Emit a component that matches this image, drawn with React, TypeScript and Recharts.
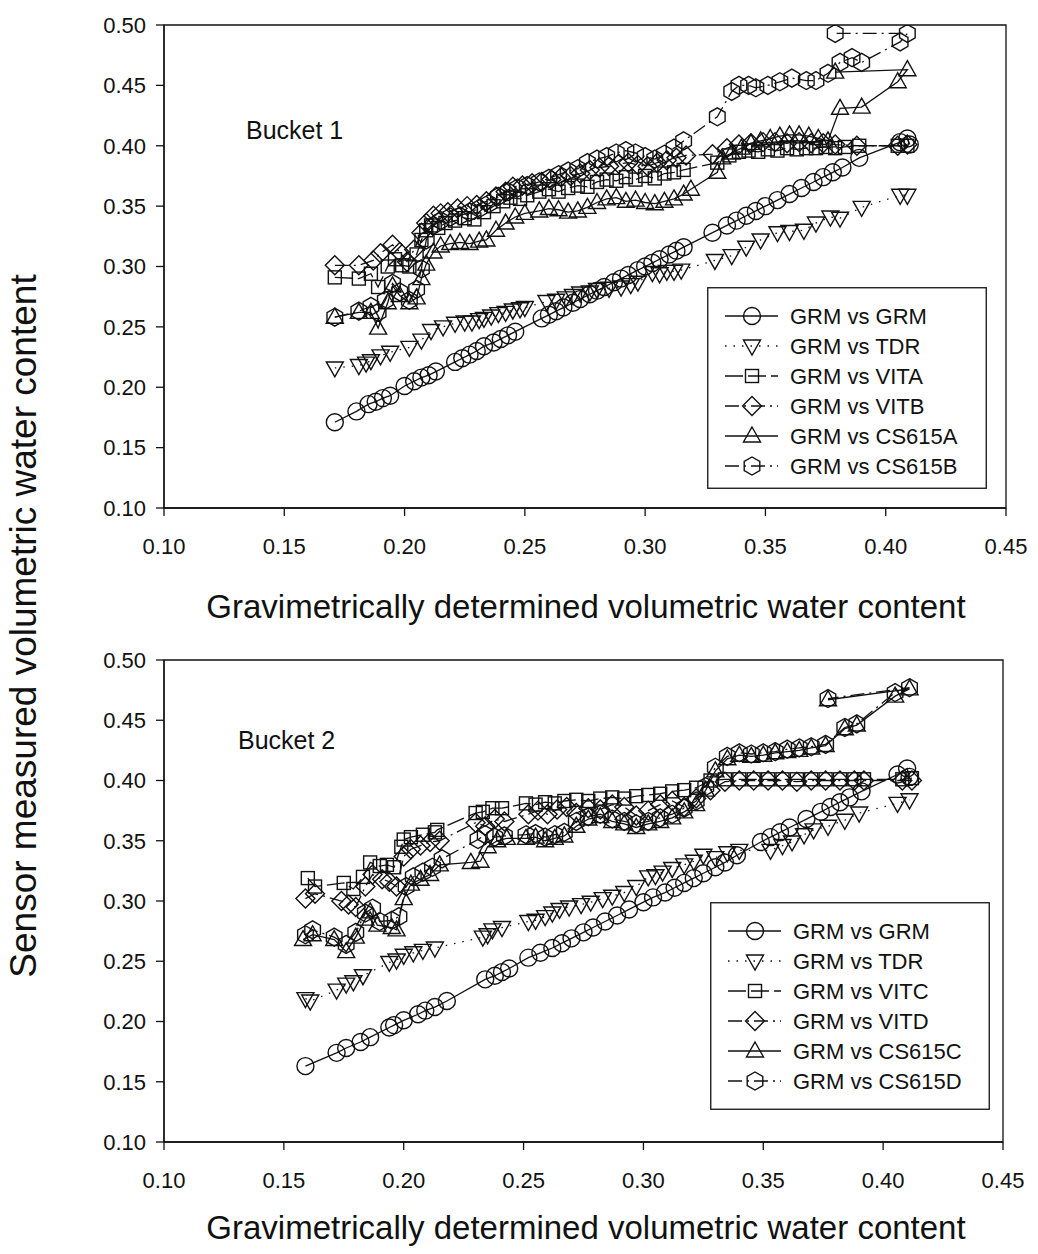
import React from 'react';
import { ScatterChart, Scatter, XAxis, YAxis, ReferenceArea, Legend } from 'recharts';

type Pt = [number, number];

// ---------- axis ticks ----------
const xTicks = [0.1, 0.15, 0.2, 0.25, 0.3, 0.35, 0.4, 0.45];
const yTicks = [0.1, 0.15, 0.2, 0.25, 0.3, 0.35, 0.4, 0.45, 0.5];

// ---------- series labels ----------
const bucket1Labels = ['GRM vs GRM', 'GRM vs TDR', 'GRM vs VITA', 'GRM vs VITB', 'GRM vs CS615A', 'GRM vs CS615B'];
const bucket2Labels = ['GRM vs GRM', 'GRM vs TDR', 'GRM vs VITC', 'GRM vs VITD', 'GRM vs CS615C', 'GRM vs CS615D'];

// ---------- Bucket 1 data (x = gravimetric, y = sensor) ----------
const bucket1Grm: Pt[] = [
  [0.171, 0.171], [0.180, 0.180], [0.185, 0.186], [0.188, 0.188], [0.191, 0.191], [0.194, 0.193],
  [0.200, 0.201], [0.204, 0.205], [0.207, 0.208], [0.210, 0.210], [0.213, 0.213], [0.221, 0.221],
  [0.224, 0.224], [0.227, 0.227], [0.230, 0.230], [0.233, 0.234], [0.237, 0.237], [0.240, 0.240],
  [0.243, 0.243], [0.246, 0.246], [0.257, 0.257], [0.260, 0.260], [0.263, 0.263], [0.266, 0.266],
  [0.270, 0.270], [0.273, 0.273], [0.277, 0.277], [0.280, 0.280], [0.283, 0.283], [0.287, 0.287],
  [0.290, 0.290], [0.293, 0.293], [0.297, 0.297], [0.300, 0.300], [0.303, 0.303], [0.306, 0.306],
  [0.310, 0.310], [0.313, 0.313], [0.316, 0.316], [0.328, 0.328], [0.334, 0.334], [0.338, 0.338],
  [0.342, 0.342], [0.346, 0.346], [0.350, 0.350], [0.355, 0.355], [0.360, 0.360], [0.365, 0.365],
  [0.370, 0.370], [0.374, 0.374], [0.378, 0.378], [0.382, 0.382], [0.389, 0.390], [0.406, 0.403],
  [0.409, 0.406], [0.410, 0.401],
];
const bucket1Tdr: Pt[] = [
  [0.171, 0.216], [0.181, 0.218], [0.184, 0.220], [0.186, 0.222], [0.190, 0.226], [0.194, 0.229],
  [0.202, 0.233], [0.207, 0.239], [0.211, 0.247], [0.216, 0.250], [0.221, 0.253], [0.225, 0.254],
  [0.228, 0.254], [0.231, 0.256], [0.233, 0.257], [0.236, 0.259], [0.239, 0.261], [0.242, 0.262],
  [0.245, 0.264], [0.248, 0.265], [0.250, 0.266], [0.259, 0.271], [0.263, 0.272], [0.267, 0.274],
  [0.270, 0.276], [0.273, 0.278], [0.277, 0.279], [0.280, 0.281], [0.285, 0.282], [0.290, 0.283],
  [0.294, 0.285], [0.297, 0.287], [0.303, 0.295], [0.306, 0.294], [0.309, 0.296], [0.312, 0.296],
  [0.315, 0.297], [0.329, 0.305], [0.336, 0.309], [0.342, 0.316], [0.348, 0.322], [0.355, 0.328],
  [0.360, 0.329], [0.366, 0.330], [0.371, 0.336], [0.377, 0.341], [0.381, 0.340], [0.390, 0.349],
  [0.406, 0.359], [0.409, 0.359],
];
const bucket1VitA: Pt[] = [
  [0.171, 0.291], [0.181, 0.290], [0.186, 0.294], [0.189, 0.283], [0.193, 0.300], [0.196, 0.306],
  [0.199, 0.301], [0.202, 0.300], [0.205, 0.310], [0.207, 0.322], [0.209, 0.330], [0.211, 0.334],
  [0.214, 0.332], [0.217, 0.336], [0.221, 0.338], [0.225, 0.340], [0.229, 0.339], [0.233, 0.345],
  [0.237, 0.350], [0.241, 0.354], [0.244, 0.357], [0.248, 0.356], [0.251, 0.359], [0.256, 0.362],
  [0.260, 0.364], [0.264, 0.362], [0.268, 0.365], [0.272, 0.367], [0.276, 0.366], [0.280, 0.370],
  [0.284, 0.372], [0.288, 0.371], [0.292, 0.374], [0.296, 0.372], [0.300, 0.375], [0.304, 0.373],
  [0.308, 0.377], [0.312, 0.378], [0.316, 0.380], [0.330, 0.386], [0.335, 0.392], [0.339, 0.395],
  [0.343, 0.396], [0.347, 0.395], [0.351, 0.397], [0.355, 0.396], [0.359, 0.398], [0.363, 0.397],
  [0.367, 0.398], [0.371, 0.398], [0.375, 0.399], [0.379, 0.398], [0.383, 0.399], [0.389, 0.400],
  [0.405, 0.400], [0.409, 0.400],
];
const bucket1VitB: Pt[] = [
  [0.171, 0.301], [0.181, 0.301], [0.187, 0.305], [0.190, 0.311], [0.195, 0.318], [0.198, 0.312],
  [0.201, 0.304], [0.204, 0.314], [0.207, 0.328], [0.209, 0.336], [0.212, 0.342], [0.215, 0.344],
  [0.218, 0.345], [0.222, 0.348], [0.226, 0.350], [0.230, 0.351], [0.234, 0.354], [0.238, 0.358],
  [0.242, 0.362], [0.245, 0.366], [0.249, 0.367], [0.253, 0.369], [0.257, 0.370], [0.261, 0.372],
  [0.265, 0.374], [0.269, 0.375], [0.273, 0.377], [0.277, 0.380], [0.281, 0.382], [0.285, 0.383],
  [0.289, 0.385], [0.293, 0.386], [0.297, 0.384], [0.301, 0.383], [0.305, 0.386], [0.309, 0.388],
  [0.313, 0.390], [0.317, 0.392], [0.328, 0.393], [0.334, 0.398], [0.339, 0.401], [0.344, 0.402],
  [0.349, 0.403], [0.354, 0.403], [0.359, 0.402], [0.364, 0.403], [0.369, 0.402], [0.374, 0.402],
  [0.379, 0.401], [0.388, 0.400], [0.405, 0.400], [0.409, 0.401],
];
const bucket1Cs615A: Pt[] = [
  [0.171, 0.258], [0.181, 0.262], [0.186, 0.262], [0.189, 0.249], [0.193, 0.270], [0.195, 0.284],
  [0.198, 0.276], [0.202, 0.270], [0.205, 0.274], [0.207, 0.290], [0.209, 0.302], [0.212, 0.312],
  [0.215, 0.317], [0.219, 0.319], [0.223, 0.320], [0.227, 0.319], [0.231, 0.321], [0.234, 0.322],
  [0.238, 0.330], [0.242, 0.336], [0.246, 0.341], [0.250, 0.344], [0.256, 0.346], [0.260, 0.348],
  [0.264, 0.347], [0.268, 0.345], [0.272, 0.346], [0.276, 0.349], [0.280, 0.353], [0.284, 0.356],
  [0.288, 0.357], [0.292, 0.354], [0.296, 0.355], [0.300, 0.353], [0.304, 0.352], [0.308, 0.354],
  [0.312, 0.356], [0.316, 0.360], [0.319, 0.364], [0.330, 0.378], [0.332, 0.390], [0.336, 0.394],
  [0.340, 0.398], [0.344, 0.402], [0.348, 0.404], [0.352, 0.406], [0.356, 0.408], [0.360, 0.409],
  [0.364, 0.409], [0.368, 0.408], [0.372, 0.406], [0.376, 0.404], [0.381, 0.431], [0.390, 0.432],
  [0.405, 0.453], [0.409, 0.463], [0.379, 0.461],
];
const bucket1Cs615B: Pt[] = [
  [0.171, 0.258], [0.181, 0.263], [0.186, 0.267], [0.189, 0.262], [0.192, 0.272], [0.195, 0.286],
  [0.198, 0.279], [0.202, 0.272], [0.205, 0.281], [0.207, 0.298], [0.209, 0.322], [0.212, 0.334],
  [0.215, 0.338], [0.219, 0.341], [0.223, 0.342], [0.227, 0.345], [0.231, 0.348], [0.235, 0.352],
  [0.239, 0.358], [0.243, 0.362], [0.247, 0.365], [0.251, 0.367], [0.256, 0.370], [0.260, 0.373],
  [0.264, 0.376], [0.268, 0.379], [0.272, 0.381], [0.276, 0.386], [0.280, 0.389], [0.284, 0.391],
  [0.288, 0.394], [0.292, 0.396], [0.296, 0.394], [0.300, 0.391], [0.304, 0.389], [0.308, 0.393],
  [0.312, 0.398], [0.316, 0.404], [0.330, 0.424], [0.336, 0.445], [0.339, 0.450], [0.343, 0.450],
  [0.346, 0.448], [0.351, 0.450], [0.356, 0.453], [0.361, 0.456], [0.367, 0.454], [0.371, 0.454],
  [0.376, 0.460], [0.381, 0.469], [0.386, 0.473], [0.390, 0.469], [0.406, 0.486], [0.409, 0.493],
  [0.379, 0.493],
];

// ---------- Bucket 2 data ----------
const bucket2Grm: Pt[] = [
  [0.159, 0.163], [0.172, 0.174], [0.176, 0.178], [0.182, 0.183], [0.186, 0.187], [0.194, 0.195],
  [0.196, 0.197], [0.200, 0.201], [0.206, 0.206], [0.209, 0.209], [0.213, 0.212], [0.218, 0.217],
  [0.234, 0.235], [0.238, 0.238], [0.241, 0.241], [0.244, 0.244], [0.252, 0.253], [0.257, 0.257],
  [0.262, 0.261], [0.266, 0.265], [0.270, 0.269], [0.275, 0.274], [0.279, 0.278], [0.284, 0.283],
  [0.289, 0.288], [0.294, 0.293], [0.300, 0.299], [0.304, 0.303], [0.309, 0.307], [0.313, 0.311],
  [0.317, 0.315], [0.321, 0.319], [0.325, 0.323], [0.330, 0.328], [0.334, 0.332], [0.339, 0.338],
  [0.349, 0.349], [0.353, 0.353], [0.357, 0.357], [0.361, 0.361], [0.368, 0.368], [0.374, 0.374],
  [0.378, 0.378], [0.382, 0.382], [0.386, 0.386], [0.391, 0.391], [0.406, 0.405], [0.410, 0.410],
  [0.411, 0.403],
];
const bucket2Tdr: Pt[] = [
  [0.159, 0.219], [0.161, 0.217], [0.172, 0.226], [0.176, 0.231], [0.179, 0.233], [0.183, 0.238],
  [0.194, 0.249], [0.197, 0.251], [0.200, 0.255], [0.204, 0.257], [0.208, 0.259], [0.213, 0.261],
  [0.233, 0.270], [0.235, 0.272], [0.237, 0.276], [0.241, 0.278], [0.252, 0.283], [0.255, 0.284],
  [0.259, 0.287], [0.262, 0.290], [0.265, 0.293], [0.269, 0.295], [0.274, 0.297], [0.278, 0.299],
  [0.283, 0.302], [0.287, 0.304], [0.292, 0.307], [0.297, 0.312], [0.302, 0.320], [0.305, 0.321],
  [0.308, 0.324], [0.312, 0.327], [0.317, 0.330], [0.321, 0.333], [0.325, 0.338], [0.330, 0.336],
  [0.335, 0.340], [0.340, 0.342], [0.353, 0.342], [0.358, 0.346], [0.362, 0.349], [0.367, 0.355],
  [0.371, 0.359], [0.377, 0.362], [0.384, 0.367], [0.390, 0.373], [0.406, 0.381], [0.411, 0.384],
];
const bucket2VitC: Pt[] = [
  [0.160, 0.319], [0.163, 0.312], [0.175, 0.315], [0.179, 0.310], [0.183, 0.320], [0.186, 0.332],
  [0.190, 0.329], [0.193, 0.330], [0.196, 0.328], [0.199, 0.345], [0.200, 0.351], [0.203, 0.353],
  [0.208, 0.355], [0.213, 0.357], [0.214, 0.359], [0.230, 0.373], [0.233, 0.374], [0.237, 0.377],
  [0.241, 0.377], [0.251, 0.381], [0.255, 0.380], [0.259, 0.382], [0.263, 0.381], [0.267, 0.383],
  [0.272, 0.384], [0.277, 0.383], [0.282, 0.385], [0.287, 0.386], [0.292, 0.385], [0.297, 0.387],
  [0.302, 0.388], [0.307, 0.389], [0.312, 0.391], [0.317, 0.392], [0.322, 0.394], [0.328, 0.400],
  [0.334, 0.401], [0.340, 0.401], [0.346, 0.401], [0.352, 0.401], [0.358, 0.401], [0.364, 0.401],
  [0.370, 0.401], [0.376, 0.401], [0.382, 0.401], [0.388, 0.401], [0.392, 0.401], [0.408, 0.401],
  [0.412, 0.402],
];
const bucket2VitD: Pt[] = [
  [0.159, 0.302], [0.163, 0.306], [0.174, 0.300], [0.177, 0.297], [0.180, 0.295], [0.184, 0.312],
  [0.187, 0.322], [0.191, 0.318], [0.194, 0.316], [0.197, 0.312], [0.200, 0.337], [0.203, 0.343],
  [0.207, 0.346], [0.211, 0.349], [0.215, 0.350], [0.230, 0.365], [0.234, 0.362], [0.238, 0.368],
  [0.242, 0.366], [0.252, 0.372], [0.256, 0.375], [0.260, 0.372], [0.264, 0.376], [0.268, 0.378],
  [0.272, 0.373], [0.277, 0.377], [0.282, 0.376], [0.287, 0.380], [0.292, 0.378], [0.297, 0.371],
  [0.302, 0.375], [0.307, 0.380], [0.312, 0.383], [0.317, 0.378], [0.322, 0.385], [0.328, 0.392],
  [0.334, 0.399], [0.340, 0.400], [0.346, 0.400], [0.352, 0.400], [0.358, 0.400], [0.364, 0.399],
  [0.370, 0.400], [0.376, 0.400], [0.382, 0.400], [0.388, 0.400], [0.392, 0.400], [0.408, 0.400],
  [0.412, 0.400],
];
const bucket2Cs615C: Pt[] = [
  [0.158, 0.268], [0.162, 0.272], [0.171, 0.268], [0.176, 0.258], [0.180, 0.270], [0.184, 0.285],
  [0.186, 0.291], [0.189, 0.280], [0.195, 0.278], [0.197, 0.276], [0.200, 0.302], [0.203, 0.314],
  [0.207, 0.318], [0.211, 0.322], [0.215, 0.330], [0.228, 0.332], [0.232, 0.333], [0.235, 0.345],
  [0.239, 0.350], [0.243, 0.352], [0.251, 0.352], [0.255, 0.353], [0.259, 0.350], [0.263, 0.352],
  [0.267, 0.354], [0.272, 0.362], [0.277, 0.368], [0.282, 0.370], [0.287, 0.366], [0.292, 0.364],
  [0.297, 0.361], [0.302, 0.364], [0.307, 0.366], [0.312, 0.369], [0.317, 0.374], [0.322, 0.380],
  [0.326, 0.392], [0.330, 0.408], [0.335, 0.418], [0.340, 0.421], [0.345, 0.420], [0.350, 0.421],
  [0.355, 0.423], [0.360, 0.424], [0.365, 0.425], [0.370, 0.427], [0.376, 0.429], [0.384, 0.443],
  [0.389, 0.446], [0.405, 0.470], [0.411, 0.476], [0.377, 0.467],
];
const bucket2Cs615D: Pt[] = [
  [0.159, 0.272], [0.162, 0.276], [0.171, 0.270], [0.176, 0.264], [0.180, 0.274], [0.184, 0.290],
  [0.187, 0.294], [0.190, 0.283], [0.195, 0.284], [0.198, 0.287], [0.201, 0.312], [0.204, 0.320],
  [0.208, 0.324], [0.212, 0.328], [0.216, 0.335], [0.231, 0.351], [0.234, 0.355], [0.238, 0.353],
  [0.242, 0.354], [0.251, 0.355], [0.255, 0.356], [0.259, 0.353], [0.263, 0.355], [0.267, 0.357],
  [0.272, 0.366], [0.277, 0.370], [0.282, 0.372], [0.287, 0.368], [0.292, 0.366], [0.297, 0.364],
  [0.302, 0.366], [0.307, 0.369], [0.312, 0.372], [0.317, 0.377], [0.322, 0.383], [0.326, 0.395],
  [0.330, 0.411], [0.335, 0.420], [0.340, 0.423], [0.345, 0.422], [0.350, 0.423], [0.355, 0.424],
  [0.360, 0.426], [0.365, 0.427], [0.370, 0.428], [0.376, 0.430], [0.384, 0.444], [0.389, 0.447],
  [0.405, 0.473], [0.411, 0.477], [0.377, 0.468],
];

// ---------- styling (not data) ----------
const FONT = '"Liberation Sans", Arial, Helvetica, sans-serif';
const INK = '#111';
type Kind = 'circle' | 'down' | 'square' | 'diamond' | 'up' | 'hexagon';
const kinds: Kind[] = ['circle', 'down', 'square', 'diamond', 'up', 'hexagon'];
const dashes: (string | undefined)[] = [undefined, '1.5 7', '18 5', '14 5 2 5', undefined, '14 5 2 5'];

function Marker({ kind, cx, cy }: { kind: Kind; cx: number; cy: number }) {
  const st = { fill: 'none', stroke: INK, strokeWidth: 1.4 };
  if (cx == null || cy == null) return null;
  switch (kind) {
    case 'circle':
      return <circle cx={cx} cy={cy} r={8.5} {...st} />;
    case 'square':
      return <rect x={cx - 6.5} y={cy - 6.5} width={13} height={13} {...st} />;
    case 'diamond':
      return <path d={`M${cx},${cy - 9.5}L${cx + 9.5},${cy}L${cx},${cy + 9.5}L${cx - 9.5},${cy}Z`} {...st} />;
    case 'up':
      return <path d={`M${cx},${cy - 9}L${cx + 8.5},${cy + 6}L${cx - 8.5},${cy + 6}Z`} {...st} />;
    case 'down':
      return <path d={`M${cx - 8.5},${cy - 6}L${cx + 8.5},${cy - 6}L${cx},${cy + 9}Z`} {...st} />;
    case 'hexagon': {
      const r = 9;
      const pts = [-90, -30, 30, 90, 150, 210]
        .map((a) => `${cx + r * Math.cos((a * Math.PI) / 180)},${cy + r * Math.sin((a * Math.PI) / 180)}`)
        .join(' ');
      return <polygon points={pts} {...st} />;
    }
  }
  return null;
}

function LegendBox({ labels, width, height }: { labels: string[]; width: number; height: number }) {
  return (
    <svg width={width} height={height} style={{ display: 'block' }}>
      <rect x={0.75} y={0.75} width={width - 1.5} height={height - 1.5} fill="#fff" stroke={INK} strokeWidth={1.3} />
      {labels.map((lab, i) => {
        const y = 29 + i * 30;
        return (
          <g key={lab}>
            <line x1={18} x2={71} y1={y} y2={y} stroke={INK} strokeWidth={1.3} strokeDasharray={dashes[i]} />
            <Marker kind={kinds[i]} cx={45} cy={y} />
            <text x={83} y={y} dy="0.36em" fontFamily={FONT} fontSize={22} fill={INK}>
              {lab}
            </text>
          </g>
        );
      })}
    </svg>
  );
}

const toObjs = (pts: Pt[]) => pts.map(([x, y]) => ({ x, y }));
const fmt = (v: number) => v.toFixed(2);

function Panel({
  series,
  labels,
  width,
  height,
  margin,
  legendPos,
}: {
  series: Pt[][];
  labels: string[];
  width: number;
  height: number;
  margin: { top: number; right: number; bottom: number; left: number };
  legendPos: { left: number; top: number; width: number; height: number };
}) {
  const tickStyle = { fontFamily: FONT, fontSize: 22, fill: INK };
  return (
    <ScatterChart width={width} height={height} margin={margin}>
      <XAxis
        type="number"
        dataKey="x"
        domain={[0.1, 0.45]}
        ticks={xTicks}
        tickFormatter={fmt}
        allowDataOverflow
        axisLine={{ stroke: INK, strokeWidth: 1.3 }}
        tickLine={{ stroke: INK, strokeWidth: 1.3 }}
        tickSize={8}
        tickMargin={22}
        height={50}
        tick={tickStyle}
        interval={0}
      />
      <YAxis
        type="number"
        dataKey="y"
        domain={[0.1, 0.5]}
        ticks={yTicks}
        tickFormatter={fmt}
        allowDataOverflow
        axisLine={{ stroke: INK, strokeWidth: 1.3 }}
        tickLine={{ stroke: INK, strokeWidth: 1.3 }}
        tickSize={8}
        tickMargin={10}
        width={80}
        tick={tickStyle}
        interval={0}
      />
      <ReferenceArea x1={0.1} x2={0.45} y1={0.1} y2={0.5} fill="none" stroke={INK} strokeWidth={1.3} ifOverflow="visible" />
      {series.map((pts, i) => (
        <Scatter
          key={labels[i]}
          name={labels[i]}
          data={toObjs(pts)}
          isAnimationActive={false}
          line={{ stroke: INK, strokeWidth: 1.3, strokeDasharray: dashes[i] }}
          lineType="joint"
          shape={(p: any) => <Marker kind={kinds[i]} cx={p.cx} cy={p.cy} />}
        />
      ))}
      <Legend
        layout="horizontal"
        align="center"
        verticalAlign="middle"
        wrapperStyle={{ position: 'absolute', left: legendPos.left, top: legendPos.top, width: legendPos.width, height: legendPos.height }}
        content={() => <LegendBox labels={labels} width={legendPos.width} height={legendPos.height} />}
      />
    </ScatterChart>
  );
}

export default function App() {
  const titleStyle: React.CSSProperties = {
    position: 'absolute',
    fontFamily: FONT,
    fontSize: 33,
    color: INK,
    whiteSpace: 'nowrap',
    transform: 'translate(-50%, -50%)',
  };
  const bucketStyle: React.CSSProperties = {
    position: 'absolute',
    fontFamily: FONT,
    fontSize: 25,
    color: INK,
    whiteSpace: 'nowrap',
    lineHeight: 1,
  };
  return (
    <div style={{ position: 'absolute', left: 0, top: 0, width: 1038, height: 1254, background: '#fff', overflow: 'hidden' }}>
      <div style={{ position: 'absolute', left: 0, top: 0 }}>
        <Panel
          series={[bucket1Grm, bucket1Tdr, bucket1VitA, bucket1VitB, bucket1Cs615A, bucket1Cs615B]}
          labels={bucket1Labels}
          width={1038}
          height={570}
          margin={{ top: 25, right: 32, bottom: 570 - 508 - 50, left: 84 }}
          legendPos={{ left: 707, top: 287, width: 280, height: 202 }}
        />
      </div>
      <div style={{ position: 'absolute', left: 0, top: 620 }}>
        <Panel
          series={[bucket2Grm, bucket2Tdr, bucket2VitC, bucket2VitD, bucket2Cs615C, bucket2Cs615D]}
          labels={bucket2Labels}
          width={1038}
          height={580}
          margin={{ top: 40, right: 35, bottom: 580 - 522 - 50, left: 84 }}
          legendPos={{ left: 710, top: 282, width: 280, height: 208 }}
        />
      </div>
      <div style={{ ...bucketStyle, left: 246, top: 118 }}>Bucket 1</div>
      <div style={{ ...bucketStyle, left: 238, top: 728 }}>Bucket 2</div>
      <div style={{ ...titleStyle, left: 586, top: 607 }}>Gravimetrically determined volumetric water content</div>
      <div style={{ ...titleStyle, left: 586, top: 1228 }}>Gravimetrically determined volumetric water content</div>
      <div style={{ ...titleStyle, fontSize: 37, left: 24, top: 626, transform: 'translate(-50%, -50%) rotate(-90deg)' }}>
        Sensor measured volumetric water content
      </div>
    </div>
  );
}
